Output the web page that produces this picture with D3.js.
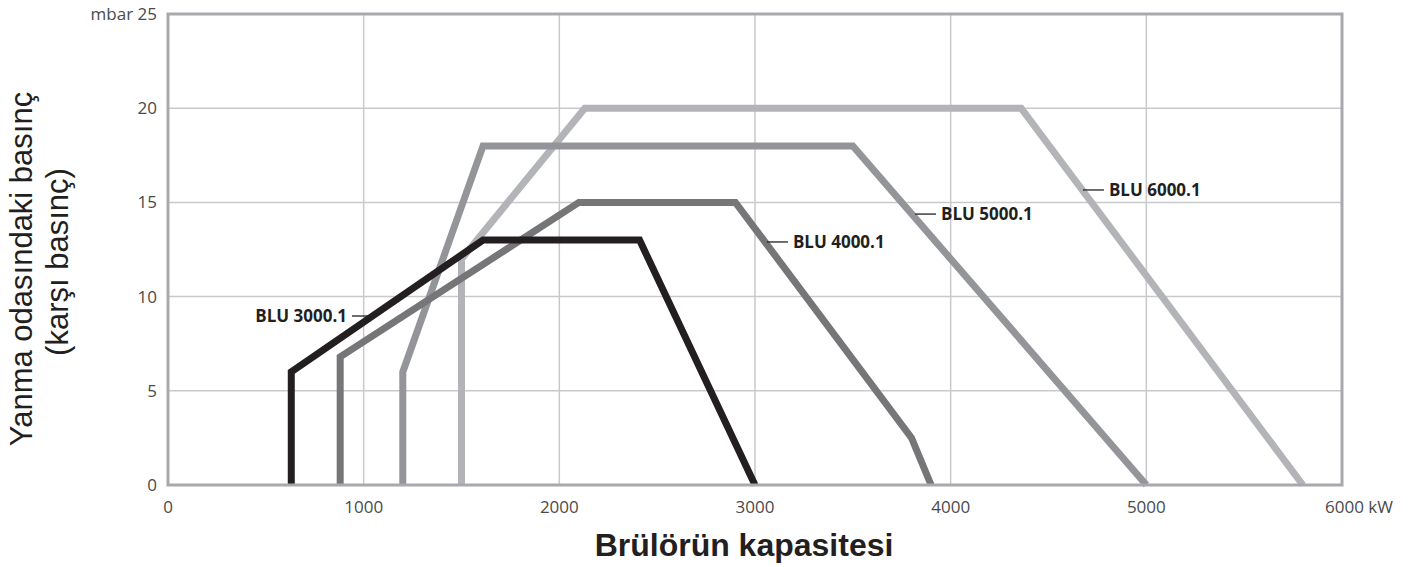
<!DOCTYPE html>
<html>
<head>
<meta charset="utf-8">
<script src="https://cdn.jsdelivr.net/npm/d3@7"></script>
<style>
  body { margin: 0; background: #fff; }
</style>
</head>
<body>
<script>
// data
var xTicks = [0, 1000, 2000, 3000, 4000, 5000, 6000]
var yTicks = [0, 5, 10, 15, 20, 25]

var blu3000 = [[630, 0], [630, 6], [1610, 13], [2410, 13], [3000, 0]]
var blu4000 = [[880, 0], [880, 6.8], [2100, 15], [2900, 15], [3800, 2.5], [3900, 0]]
var blu5000 = [[1200, 0], [1200, 6], [1610, 18], [3500, 18], [5000, 0]]
var blu6000 = [[1500, 0], [1500, 12], [2130, 20], [4360, 20], [5800, 0]]

var seriesNames = ["BLU 6000.1", "BLU 5000.1", "BLU 4000.1", "BLU 3000.1"]
var seriesData = [blu6000, blu5000, blu4000, blu3000]
var seriesColors = ["#b3b4b7", "#939598", "#767679", "#231f20"]
// where each label's leader touches the line (x, y in data units)
var labelAt = [[4676, 15.66], [3818, 14.38], [3061, 12.9], [1022, 8.97]]

var width = 1419, height = 567
var mLeft = 168, mRight = 1342, mTop = 14, mBottom = 485
var tickFont = "'Open Sans', 'DejaVu Sans', sans-serif"
var titleFont = "'Liberation Sans', Arial, sans-serif"

var svg = d3.select("body").append("svg").attr("width", width).attr("height", height)

var x = d3.scaleLinear().domain([0, 6000]).range([mLeft, mRight])
var y = d3.scaleLinear().domain([0, 25]).range([mBottom, mTop])

// grid
svg.append("g").selectAll("line").data(xTicks.slice(1, -1)).enter().append("line")
  .attr("x1", d => x(d)).attr("x2", d => x(d)).attr("y1", mTop).attr("y2", mBottom)
  .attr("stroke", "#c9c9cb").attr("stroke-width", 1.5)
svg.append("g").selectAll("line").data(yTicks.slice(1, -1)).enter().append("line")
  .attr("x1", mLeft).attr("x2", mRight).attr("y1", d => y(d)).attr("y2", d => y(d))
  .attr("stroke", "#c9c9cb").attr("stroke-width", 1.5)

// tick labels
svg.append("g").selectAll("text").data(xTicks).enter().append("text")
  .attr("x", d => x(d)).attr("y", 513).attr("text-anchor", "middle")
  .style("font-family", tickFont).attr("font-size", 17).attr("fill", "#4a4a4a")
  .attr("dx", d => d == 6000 ? 17 : 0)
  .text(d => d == 6000 ? "6000 kW" : d)
svg.append("g").selectAll("text").data(yTicks).enter().append("text")
  .attr("x", 157).attr("y", d => y(d) + 6).attr("text-anchor", "end")
  .style("font-family", tickFont).attr("font-size", 17).attr("fill", "#4a4a4a")
  .text(d => d == 25 ? "mbar 25" : d)

// lines
var line = d3.line().x(d => x(d[0])).y(d => y(d[1]))
svg.append("g").selectAll("path").data(seriesData).enter().append("path")
  .attr("d", line).attr("fill", "none")
  .attr("stroke", (d, i) => seriesColors[i]).attr("stroke-width", 7)
  .attr("stroke-linejoin", "miter")

// frame
svg.append("rect").attr("x", mLeft).attr("y", mTop)
  .attr("width", mRight - mLeft).attr("height", mBottom - mTop)
  .attr("fill", "none").attr("stroke", "#a7a9ac").attr("stroke-width", 3)

// series labels
labelAt.forEach(function(p, i) {
  var lx = x(p[0]), ly = y(p[1])
  var g = svg.append("g")
  if (i == 3) {
    g.append("line").attr("x1", lx - 16).attr("x2", lx).attr("y1", ly).attr("y2", ly)
      .attr("stroke", "#231f20").attr("stroke-width", 1.3)
    g.append("text").attr("x", lx - 21).attr("y", ly + 6).attr("text-anchor", "end")
      .style("font-family", tickFont).attr("font-size", 17).attr("font-weight", "bold")
      .attr("fill", "#231f20").text(seriesNames[i])
  } else {
    g.append("line").attr("x1", lx).attr("x2", lx + 21).attr("y1", ly).attr("y2", ly)
      .attr("stroke", "#231f20").attr("stroke-width", 1.3)
    g.append("text").attr("x", lx + 26).attr("y", ly + 6)
      .style("font-family", tickFont).attr("font-size", 17).attr("font-weight", "bold")
      .attr("fill", "#231f20").text(seriesNames[i])
  }
})

// axis titles
svg.append("text").attr("x", 744).attr("y", 556).attr("text-anchor", "middle")
  .style("font-family", titleFont)
  .attr("font-size", 32).attr("font-weight", "bold").attr("fill", "#231f20")
  .text("Brülörün kapasitesi")

var yt = svg.append("text").attr("transform", "translate(32,269) rotate(-90)")
  .attr("text-anchor", "middle")
  .style("font-family", titleFont)
  .attr("font-size", 31).attr("fill", "#231f20")
yt.append("tspan").attr("x", 0).attr("dy", 0).text("Yanma odasındaki basınç")
yt.append("tspan").attr("x", 7).attr("dy", 36).text("(karşı basınç)")
</script>
</body>
</html>
